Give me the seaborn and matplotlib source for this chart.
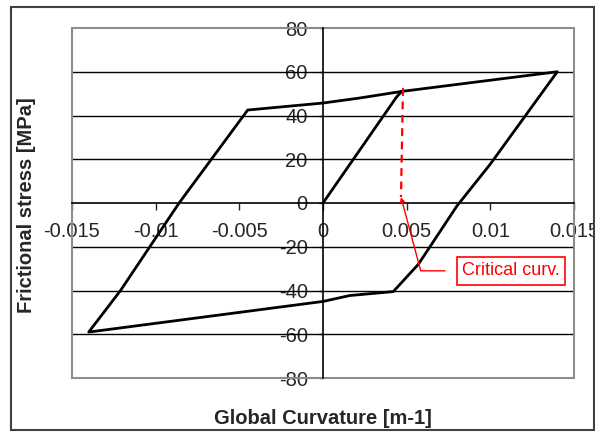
import matplotlib
matplotlib.use("Agg")
import matplotlib.pyplot as plt
import matplotlib.ticker as mticker
from matplotlib.patches import Rectangle
import pandas as pd
import seaborn as sns

# hysteresis loop
curvature = [0.0, 0.0044, 0.0047, 0.0140, 0.0100, 0.0080, 0.0057, 0.0042,
             0.0016, 0.0, -0.0140, -0.0121, -0.0086, -0.0045, 0.0, 0.0022, 0.0047]
stress = [0.0, 48.5, 51.0, 60.0, 17.8, -1.4, -28.0, -40.5,
          -42.3, -45.0, -59.0, -40.0, 0.0, 42.5, 45.7, 48.0, 51.0]

crit_x = [0.00478, 0.00466]
crit_y = [52.5, 2.7]
crit_label = "Critical curv."
crit_label_pos = (0.01124, -31.0)

x_ticks = [-0.015, -0.01, -0.005, 0, 0.005, 0.01, 0.015]
x_tick_labels = ["-0.015", "-0.01", "-0.005", "0", "0.005", "0.01", "0.015"]
y_ticks = [-80, -60, -40, -20, 0, 20, 40, 60, 80]
y_tick_labels = ["-80", "-60", "-40", "-20", "0", "20", "40", "60", "80"]
grid_values = [-60, -40, -20, 20, 40, 60]

df = pd.DataFrame({"curvature": curvature, "stress": stress})

sns.set_style("white")
plt.rcParams["font.family"] = ["Liberation Sans", "DejaVu Sans"]
plt.rcParams["axes.unicode_minus"] = False

fig = plt.figure(figsize=(5.95, 4.32), dpi=100)
ax = fig.add_axes([72 / 595, 1 - 378 / 432, 502 / 595, 350 / 432])

for g in grid_values:
    ax.axhline(g, color="black", lw=1.0, zorder=1)

sns.lineplot(data=df, x="curvature", y="stress", sort=False, estimator=None,
             color="black", lw=2.0, ax=ax, zorder=3)

ax.plot(crit_x, crit_y, color="red", lw=1.6, ls=(0, (3.5, 2.5)), zorder=4)
ax.annotate(crit_label, xy=(crit_x[1], crit_y[1]), xytext=crit_label_pos,
            ha="center", va="center", color="red", fontsize=13,
            bbox=dict(boxstyle="square,pad=0.3", fc="white", ec="red", lw=1.2),
            arrowprops=dict(arrowstyle="-|>", color="red", lw=1.0,
                            mutation_scale=7, shrinkA=8, shrinkB=0,
                            connectionstyle="angle,angleA=0,angleB=105"),
            zorder=5)

ax.set_xlim(-0.015, 0.015)
ax.set_ylim(-80, 80)

ax.spines["left"].set_position("zero")
ax.spines["bottom"].set_position("zero")
for s in ["left", "bottom"]:
    ax.spines[s].set_color("black")
    ax.spines[s].set_linewidth(1.2)
    ax.spines[s].set_zorder(2)
ax.spines["top"].set_visible(False)
ax.spines["right"].set_visible(False)
ax.add_patch(Rectangle((0, 0), 1, 1, transform=ax.transAxes, fill=False,
                       ec="#8c8c8c", lw=1.5, clip_on=False, zorder=2))

ax.xaxis.set_major_locator(mticker.FixedLocator(x_ticks))
ax.xaxis.set_major_formatter(mticker.FixedFormatter(x_tick_labels))
ax.yaxis.set_major_locator(mticker.FixedLocator(y_ticks))
ax.yaxis.set_major_formatter(mticker.FixedFormatter(y_tick_labels))
ax.tick_params(axis="x", direction="out", length=5, width=1.0, pad=9,
               labelsize=14.5, bottom=True)
ax.tick_params(axis="y", direction="out", length=3, width=1.0, pad=8,
               labelsize=14.5, left=True)

ax.set_xlabel("Global Curvature [m-1]", fontsize=14.5, fontweight="bold")
ax.set_ylabel("Frictional stress [MPa]", fontsize=14.5, fontweight="bold")
ax.xaxis.set_label_coords(0.5, -0.09)
ax.yaxis.set_label_coords(-0.072, 0.494)

fig.patches.append(Rectangle((11 / 595, 2 / 432), 583 / 595, 423 / 432,
                             transform=fig.transFigure, fill=False,
                             ec="#404040", lw=1.5))

fig.savefig("out.png", dpi=100)
